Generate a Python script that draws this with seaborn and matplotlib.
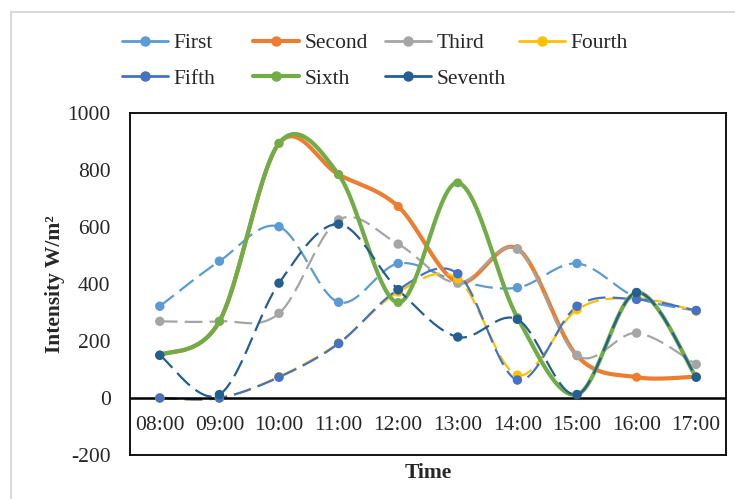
import numpy as np
import pandas as pd
import matplotlib
matplotlib.use("Agg")
import matplotlib.pyplot as plt
from matplotlib.lines import Line2D
from matplotlib.patches import Rectangle
import seaborn as sns

# ---- data -------------------------------------------------------------
times = ["08:00", "09:00", "10:00", "11:00", "12:00",
         "13:00", "14:00", "15:00", "16:00", "17:00"]

first   = [322, 480, 601, 336, 472, 410, 387, 472, 352, 306]
second  = [150, 269, 893, 784, 672, 407, 524, 148, 73, 75]
third   = [269, 269, 297, 625, 540, 403, 522, 150, 228, 118]
fourth  = [0, 0, 75, 193, 372, 418, 80, 310, 350, 305]
fifth   = [0, 0, 73, 191, 380, 436, 63, 322, 346, 307]
sixth   = [150, 269, 894, 784, 335, 755, 282, 12, 370, 73]
seventh = [150, 12, 403, 610, 380, 214, 276, 12, 370, 73]

names  = ["First", "Second", "Third", "Fourth", "Fifth", "Sixth", "Seventh"]
series = [first, second, third, fourth, fifth, sixth, seventh]
colors = ["#5B9BD5", "#ED7D31", "#A5A5A5", "#FFC000",
          "#4472C4", "#70AD47", "#255E91"]
solid  = {"Second", "Sixth"}


def smooth(y, n=40):
    """Cubic Bezier smoothing through every point (Catmull-Rom style)."""
    y = np.asarray(y, float)
    x = np.arange(len(y), dtype=float)
    px = np.concatenate([[x[0]], x, [x[-1]]])
    py = np.concatenate([[y[0]], y, [y[-1]]])
    xs, ys = [], []
    t = np.linspace(0, 1, n)
    for i in range(len(y) - 1):
        p0x, p0y = px[i + 1], py[i + 1]
        p3x, p3y = px[i + 2], py[i + 2]
        c1x = p0x + (px[i + 2] - px[i]) / 6
        c1y = p0y + (py[i + 2] - py[i]) / 6
        c2x = p3x - (px[i + 3] - px[i + 1]) / 6
        c2y = p3y - (py[i + 3] - py[i + 1]) / 6
        bx = ((1 - t) ** 3) * p0x + 3 * ((1 - t) ** 2) * t * c1x + 3 * (1 - t) * t ** 2 * c2x + t ** 3 * p3x
        by = ((1 - t) ** 3) * p0y + 3 * ((1 - t) ** 2) * t * c1y + 3 * (1 - t) * t ** 2 * c2y + t ** 3 * p3y
        xs.append(bx if i == 0 else bx[1:])
        ys.append(by if i == 0 else by[1:])
    return np.concatenate(xs), np.concatenate(ys)


# ---- figure -----------------------------------------------------------
sns.set_style("white")
plt.rcParams["font.family"] = ["Liberation Serif", "DejaVu Serif"]
plt.rcParams["axes.unicode_minus"] = False

fig = plt.figure(figsize=(7.35, 4.99), dpi=100)
ax = fig.add_axes([130 / 735, 1 - 455 / 499, (726 - 130) / 735, (455 - 113) / 499])

# chart area border
fig.patches.append(Rectangle((11 / 735, -0.1), 1.2, 1 - 12 / 499 + 0.1,
                             transform=fig.transFigure, fill=False,
                             edgecolor="#D9D9D9", linewidth=1.5, zorder=0))

xpos = np.arange(len(times))
handles = {}
for name, vals, col in zip(names, series, colors):
    sx, sy = smooth(vals)
    if name in solid:
        lw, ls, ms = 3.0, "-", 6.5
    else:
        lw, ls, ms = 1.6, (0, (8, 3.2)), 6.8
    sns.lineplot(x=sx, y=sy, ax=ax, color=col, linewidth=lw,
                 linestyle=ls, sort=False, estimator=None, legend=False)
    sns.scatterplot(x=xpos, y=vals, ax=ax, color=col, s=ms ** 2,
                    edgecolor="none", legend=False, zorder=3)
    handles[name] = Line2D([], [], color=col, linewidth=lw if name in solid else 2.0,
                           marker="o", markersize=6.5)

ax.set_xlim(-0.5, len(times) - 0.5)
ax.set_ylim(-200, 1000)
ax.set_yticks(range(-200, 1001, 200))
ax.set_xticks([])
ax.tick_params(axis="y", length=0, pad=14, labelsize=15.5)
ax.axhline(0, color="black", linewidth=1.8, zorder=2)
for s in ax.spines.values():
    s.set_color("black")
    s.set_linewidth(1.3)

# category labels sit just below the zero line
for i, lab in enumerate(times):
    ax.text(i, -97, lab, ha="center", va="center", fontsize=15.5)

ax.set_ylabel("Intensity W/m²", fontsize=15.5, fontweight="bold", labelpad=2)
ax.set_xlabel("Time", fontsize=15.5, fontweight="bold", labelpad=6)

# legend: four columns, two rows
columns = [("First", "Fifth"), ("Second", "Sixth"), ("Third", "Seventh"), ("Fourth",)]
col_x = [122, 253, 385, 519]
for cx, group in zip(col_x, columns):
    fig.legend(handles=[handles[g] for g in group], labels=list(group),
               loc="upper left", bbox_to_anchor=(cx / 735, 1 - 33 / 499),
               frameon=False, fontsize=15.5, handlelength=2.15,
               handletextpad=0.25, labelspacing=0.72, borderpad=0,
               borderaxespad=0)

fig.savefig("out.png", dpi=100)
